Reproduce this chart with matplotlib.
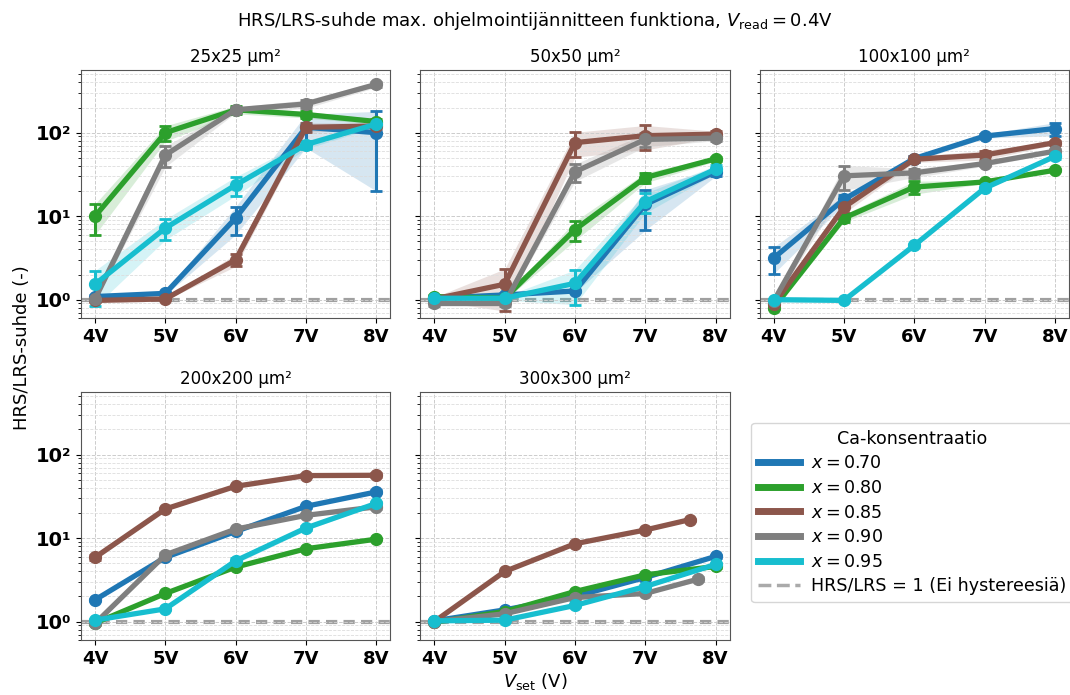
import matplotlib
matplotlib.use("Agg")
import matplotlib.pyplot as plt
from matplotlib.lines import Line2D
from matplotlib.ticker import FuncFormatter, LogLocator, NullFormatter
import numpy as np

PANELS = ["25x25 µm²", "50x50 µm²", "100x100 µm²", "200x200 µm²", "300x300 µm²"]
VSET = [4, 5, 6, 7, 8]
VSET_LABELS = ["4V", "5V", "6V", "7V", "8V"]
CONC = [0.70, 0.80, 0.85, 0.90, 0.95]
COLORS = {0.70: "tab:blue", 0.80: "tab:green", 0.85: "tab:brown",
          0.90: "tab:gray", 0.95: "tab:cyan"}

# keskiarvot (HRS/LRS) ja keskihajonnat, paneeli kerrallaan
ratio_25 = {
    0.70: [1.09, 1.19, 9.5, 116, 100],
    0.80: [10.0, 100, 188, 165, 136],
    0.85: [0.98, 1.02, 3.0, 116, 120],
    0.90: [1.02, 54, 188, 221, 379],
    0.95: [1.53, 7.2, 23.6, 72, 127],
}
std_25 = {
    0.70: [0.05, 0.05, 3.5, 50, 80],
    0.80: [4.0, 21, 20, 15, 10],
    0.85: [0.03, 0.03, 0.5, 15, 10],
    0.90: [0.05, 15, 15, 25, 30],
    0.95: [0.7, 2.0, 6, 8, 10],
}
ratio_50 = {
    0.70: [1.04, 1.14, 1.27, 13.8, 34],
    0.80: [1.09, 1.04, 6.9, 29, 48.6],
    0.85: [1.02, 1.53, 76, 92, 96],
    0.90: [0.90, 0.90, 34, 83, 86],
    0.95: [1.04, 1.04, 1.57, 14.9, 36.5],
}
std_50 = {
    0.70: [0.05, 0.05, 0.05, 7, 4],
    0.80: [0.05, 0.05, 1.8, 4, 3],
    0.85: [0.05, 0.8, 25, 30, 8],
    0.90: [0.05, 0.05, 8, 15, 6],
    0.95: [0.05, 0.05, 0.7, 4, 4],
}
ratio_100 = {
    0.70: [3.15, 15.9, 49, 91, 112],
    0.80: [0.80, 9.5, 22.3, 25.7, 35.5],
    0.85: [0.88, 12.8, 48, 54, 76],
    0.90: [0.96, 30.4, 33, 42.7, 60],
    0.95: [1.0, 0.98, 4.47, 21.6, 52],
}
std_100 = {
    0.70: [1.1, 2, 4, 5, 20],
    0.80: [0.03, 1, 4, 1, 1],
    0.85: [0.03, 2, 4, 7, 4],
    0.90: [0.03, 10, 4, 3, 3],
    0.95: [0.02, 0.02, 0.2, 1, 3],
}
ratio_200 = {
    0.70: [1.82, 5.87, 12.0, 24, 35.7],
    0.80: [0.96, 2.17, 4.49, 7.45, 9.7],
    0.85: [5.87, 22.3, 41.7, 56, 56.5],
    0.90: [0.95, 6.3, 12.8, 18.7, 23.7],
    0.95: [1.04, 1.42, 5.34, 13.2, 26],
}
std_200 = {
    0.70: [0.05, 0.2, 0.4, 0.8, 1.5],
    0.80: [0.03, 0.05, 0.1, 0.2, 0.3],
    0.85: [0.4, 0.8, 1.5, 2, 3],
    0.90: [0.03, 0.3, 0.5, 0.6, 1.5],
    0.95: [0.03, 0.05, 0.4, 0.8, 1.0],
}
ratio_300 = {
    0.70: [1.02, 1.38, 2.0, 3.37, 6.03],
    0.80: [0.98, 1.32, 2.29, 3.63, 4.57],
    0.85: [1.0, 3.98, 8.55, 12.5, 16.6],
    0.90: [1.0, 1.24, 1.94, 2.17, 3.22],
    0.95: [1.02, 1.04, 1.56, 2.63, 4.83],
}
std_300 = {
    0.70: [0.02, 0.05, 0.05, 0.1, 0.2],
    0.80: [0.02, 0.05, 0.05, 0.1, 0.2],
    0.85: [0.02, 0.1, 0.2, 0.3, 0.4],
    0.90: [0.02, 0.05, 0.05, 0.05, 0.2],
    0.95: [0.02, 0.03, 0.05, 0.1, 0.2],
}
# 300x300: viimeinen mittapiste ei osunut tasan 8 V:iin
vset_300 = {0.85: [4, 5, 6, 7, 7.63], 0.90: [4, 5, 6, 7, 7.75]}

RATIOS = [ratio_25, ratio_50, ratio_100, ratio_200, ratio_300]
STDS = [std_25, std_50, std_100, std_200, std_300]
VSETS = [{}, {}, {}, {}, vset_300]

SUPERSCRIPT = str.maketrans("-0123456789", "⁻⁰¹²³⁴⁵⁶⁷⁸⁹")

plt.rcParams["font.family"] = ["DejaVu Sans"]

fig, axes = plt.subplots(2, 3, figsize=(10.7, 6.95), dpi=100, sharey=True)
fig.subplots_adjust(left=0.0757, right=0.999, top=0.899, bottom=0.079,
                    wspace=0.097, hspace=0.298)
axes = axes.ravel()

for i, title in enumerate(PANELS):
    ax = axes[i]
    for c in CONC:
        x = np.array(VSETS[i].get(c, VSET), dtype=float)
        y = np.array(RATIOS[i][c])
        s = np.array(STDS[i][c])
        lo = np.clip(y - s, y * 0.05, None)
        hi = y + s
        col = COLORS[c]
        ax.fill_between(x, lo, hi, color=col, alpha=0.18, linewidth=0)
        ax.errorbar(x, y, yerr=[y - lo, hi - y], color=col, lw=3.8,
                    marker="o", markersize=8.5, capsize=4, elinewidth=2.2,
                    capthick=2)
    ax.axhline(1, color="#a0a0a0", ls="--", lw=3, dashes=(2.7, 1.5), zorder=0.5)
    ax.set_yscale("log")
    ax.set_ylim(0.6, 560)
    ax.set_xlim(3.8, 8.2)
    ax.set_xticks(VSET)
    ax.set_xticklabels(VSET_LABELS, fontweight="bold", fontsize=13)
    ax.yaxis.set_major_locator(LogLocator(base=10))
    ax.yaxis.set_minor_locator(LogLocator(base=10, subs=np.arange(2, 10)))
    ax.yaxis.set_major_formatter(FuncFormatter(
        lambda v, p: "10" + str(int(round(np.log10(v)))).translate(SUPERSCRIPT)))
    ax.yaxis.set_minor_formatter(NullFormatter())
    for lab in ax.get_yticklabels():
        lab.set_fontweight("bold")
    ax.tick_params(axis="y", labelsize=14)
    ax.grid(True, which="major", ls="--", color="#cccccc", lw=0.7)
    ax.grid(True, which="minor", axis="y", ls="--", color="#dddddd", lw=0.6)
    ax.set_title(title, fontsize=12)
    for sp in ax.spines.values():
        sp.set_color("#555555")
    ax.tick_params(axis="y", which="major", labelleft=(i % 3 == 0))

axes[5].axis("off")

handles = [Line2D([], [], color=COLORS[c], lw=5, label=rf"$x = {c:.2f}$")
           for c in CONC]
handles.append(Line2D([], [], color="#aaaaaa", ls="--", lw=2.5,
                      label="HRS/LRS = 1 (Ei hystereesiä)"))
fig.legend(handles=handles, title="Ca-konsentraatio", loc="upper left",
           bbox_to_anchor=(0.702, 0.392), fontsize=12.6, title_fontsize=12.6,
           handlelength=2.4, handletextpad=0.6, borderaxespad=0.0,
           labelspacing=0.38)

fig.suptitle(r"HRS/LRS-suhde max. ohjelmointijännitteen funktiona, "
             r"$V_{\mathrm{read}} = 0.4$V", fontsize=13, y=0.985)
fig.supylabel("HRS/LRS-suhde (-)", fontsize=13, x=0.012)
fig.supxlabel(r"$V_{\mathrm{set}}$ (V)", fontsize=13, y=0.005)

fig.savefig("out.png", dpi=100)
